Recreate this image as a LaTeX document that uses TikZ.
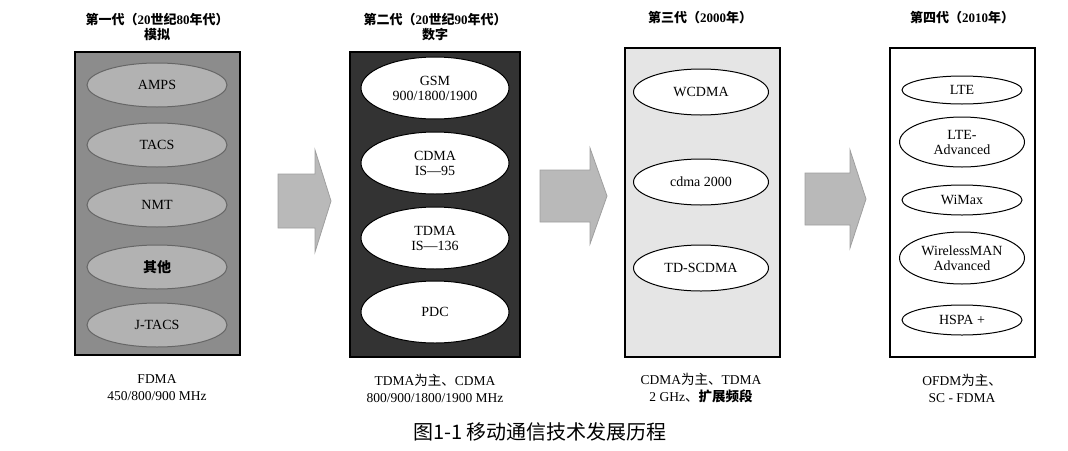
\documentclass[tikz,border=0pt]{standalone}
\usepackage{fontspec}
\setmainfont{Liberation Serif}
\newfontfamily\cjk{Noto Sans CJK SC}
\usetikzlibrary{shapes.geometric}
\begin{document}
\begin{tikzpicture}[x=1pt,y=-1pt,
 panel/.style={draw=black,line width=1.2pt},
 el/.style={ellipse,draw=black,line width=1pt,minimum width=#1,align=center,font=\fontsize{14}{15}\selectfont,inner sep=1pt},
 el/.default=140pt,
 ttl/.style={font=\bfseries\fontsize{13}{15}\selectfont,align=center},
 bot/.style={font=\fontsize{13.5}{17}\selectfont,align=center},
 arr/.style={draw=gray!75,fill=gray!55,line width=0.8pt}]
\useasboundingbox (0,0) rectangle (1068,450);
% panels
\draw[panel,fill=black!45] (75,52) rectangle (240,355);
\draw[panel,fill=black!80] (350,52) rectangle (520,357);
\draw[panel,fill=black!10] (625,48) rectangle (780,357);
\draw[panel,fill=white] (890,48) rectangle (1035,357);
% titles
\node[ttl] (t1) at (157,27) {{\cjk 第一代（}20{\cjk 世纪}80{\cjk 年代）}\\{\cjk 模拟}};
\node[ttl] (t2) at (435,27) {{\cjk 第二代（}20{\cjk 世纪}90{\cjk 年代）}\\{\cjk 数字}};
\node[ttl] (t3) at (700,18) {{\cjk 第三代（}2000{\cjk 年）}};
\node[ttl] (t4) at (962,18) {{\cjk 第四代（}2010{\cjk 年）}};
% gen 1
\foreach \n/\y/\t in {a1/85/AMPS,a2/145/TACS,a3/205/NMT,a4/267/{\cjk\bfseries 其他},a5/325/J-TACS}
  \node[el=140pt,minimum height=44pt,fill=black!30,draw=black!60] (\n) at (157,\y) {\t};
% gen 2
\node[el=148pt,minimum height=62pt,fill=white] (b1) at (435,88) {GSM\\900/1800/1900};
\node[el=148pt,minimum height=62pt,fill=white] (b2) at (435,163) {CDMA\\IS---95};
\node[el=148pt,minimum height=62pt,fill=white] (b3) at (435,238) {TDMA\\IS---136};
\node[el=148pt,minimum height=62pt,fill=white] (b4) at (435,312) {PDC};
% gen 3
\node[el=135pt,minimum height=46pt,fill=white] (c1) at (701,92) {WCDMA};
\node[el=135pt,minimum height=46pt,fill=white] (c2) at (701,182) {cdma 2000};
\node[el=135pt,minimum height=46pt,fill=white] (c3) at (701,268) {TD-SCDMA};
% gen 4
\node[el=120pt,minimum height=28pt] (d1) at (962,90) {LTE};
\node[el=125pt,minimum height=50pt] (d2) at (962,142) {LTE-\\Advanced};
\node[el=120pt,minimum height=30pt] (d3) at (962,200) {WiMax};
\node[el=125pt,minimum height=52pt] (d4) at (962,258) {WirelessMAN\\Advanced};
\node[el=120pt,minimum height=30pt] (d5) at (962,320) {HSPA +};
% block arrows
\draw[arr] (278,174) -- (315,174) -- (315,150) -- (331,201) -- (315,252) -- (315,228) -- (278,228) -- cycle;
\draw[arr] (540,170) -- (590,170) -- (590,148) -- (607,196) -- (590,244) -- (590,222) -- (540,222) -- cycle;
\draw[arr] (805,173) -- (850,173) -- (850,150) -- (866,199) -- (850,248) -- (850,225) -- (805,225) -- cycle;
% bottom
\node[bot] (f1) at (157,388) {FDMA\\450/800/900 MHz};
\node[bot] (f2) at (435,388) {TDMA{\cjk 为主、}CDMA\\800/900/1800/1900 MHz};
\node[bot] (f3) at (701,388) {CDMA{\cjk 为主、}TDMA\\2 GHz{\cjk 、\bfseries 扩展频段}};
\node[bot] (f4) at (962,388) {OFDM{\cjk 为主、}\\SC - FDMA};
\node[font=\cjk\fontsize{20}{22}\selectfont] (cap) at (540,432) {图1-1 移动通信技术发展历程};
\end{tikzpicture}
\end{document}
